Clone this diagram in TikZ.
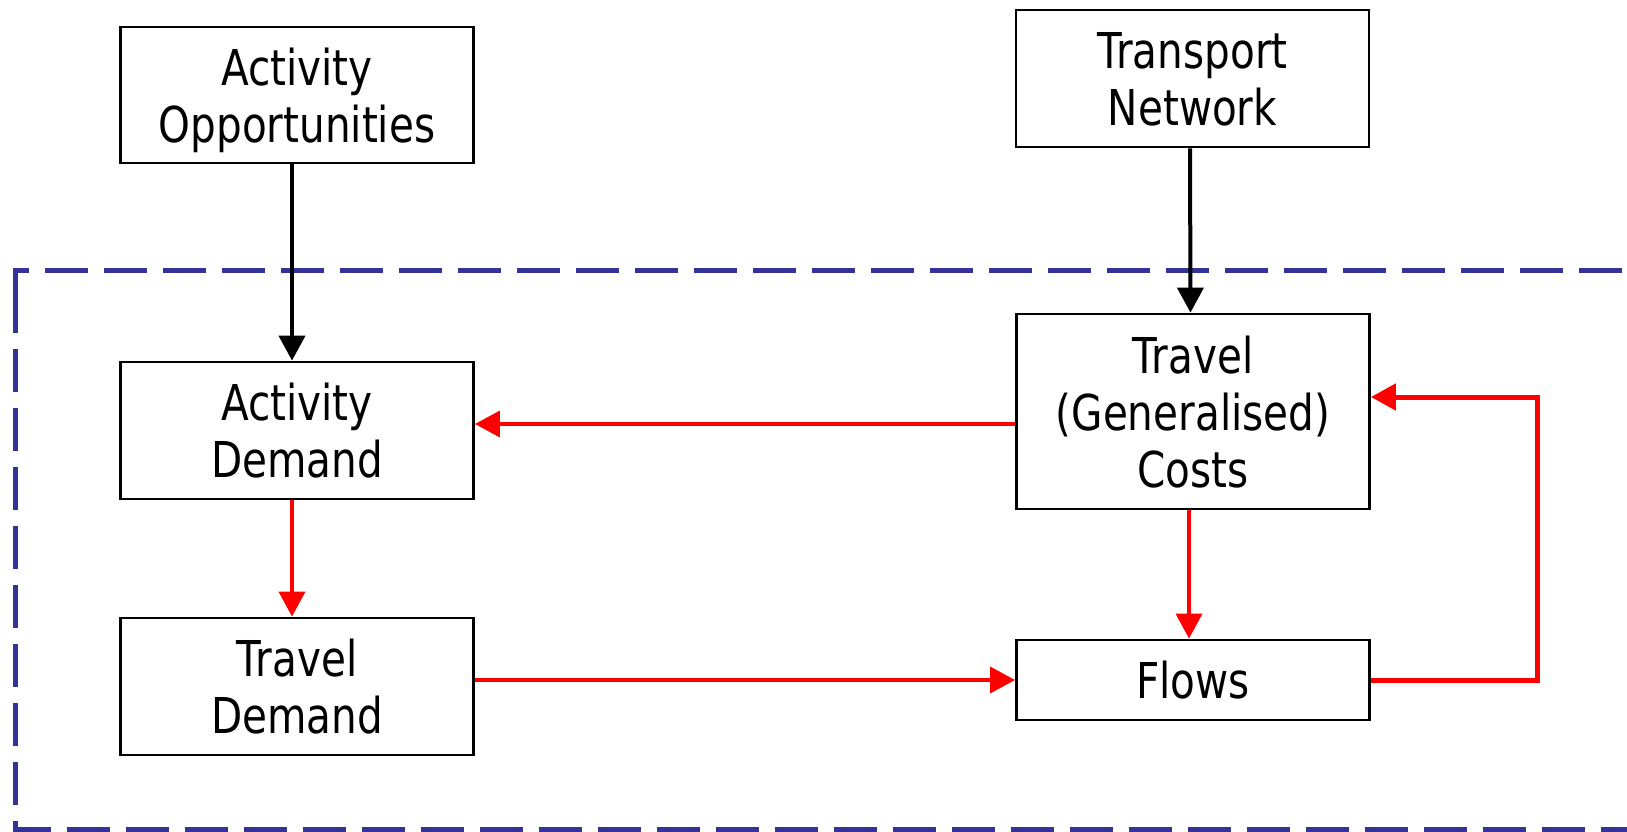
\documentclass[tikz,border=0pt]{standalone}
\usepackage{fontspec}
\setmainfont[FakeStretch=0.82]{DejaVu Sans}
\usetikzlibrary{arrows.meta}
\definecolor{dashblue}{RGB}{51,51,153}
\definecolor{linkred}{RGB}{255,0,0}
\begin{document}
\begin{tikzpicture}[x=0.5pt,y=-0.5pt,
  box/.style={draw=black, line width=1.4pt, fill=white, inner sep=0pt,
    minimum width=176.5pt, align=center, text depth=0pt,
    font=\fontsize{24.7}{28.5}\selectfont},
  tip/.style={-{Triangle[width=13pt,length=12.5pt]}},
  blkarrow/.style={tip, draw=black, line width=2pt},
  redarrow/.style={tip, draw=linkred, line width=1.8pt},
  fbarrow/.style={tip, draw=linkred, line width=2.5pt},
  frame/.style={draw=dashblue, line width=2.5pt, dash pattern=on 21.5pt off 8pt}
]
\useasboundingbox (0,0) rectangle (1627,831);
% dashed frame
\draw[frame] (15.7,290) -- (15.7,829) -- (1660,829);
\draw[frame] (15.7,300) -- (15.7,270) -- (1660,270);
% nodes
\node[box, minimum height=68pt]   (ao) at (297,95)     {Activity\\Opportunities};
\node[box, minimum height=68.5pt] (tn) at (1192.5,78.5) {Transport\\Network};
\node[box, minimum height=68.5pt] (ad) at (297,430.5)  {Activity\\Demand};
\node[box, minimum height=97.5pt] (co) at (1193,411.5) {Travel\\(Generalised)\\Costs};
\node[box, minimum height=68.5pt] (td) at (297,686.5)  {Travel\\Demand};
\node[box, minimum height=40pt]   (fl) at (1193,680)   {Flows};
% connectors
\draw[blkarrow] ([xshift=-2.5pt]ao.south) -- ([xshift=-2.5pt]ad.north);
\draw[blkarrow] ([xshift=-1.25pt]tn.south) -- ([xshift=-1.25pt]co.north);
\draw[redarrow] ([yshift=-6.25pt]co.west) -- ([yshift=-6.25pt]co.west -| ad.east);
\draw[redarrow] ([xshift=-2.5pt]ad.south) -- ([xshift=-2.5pt]td.north);
\draw[redarrow] ([xshift=-2pt]co.south) -- ([xshift=-2pt]fl.north);
\draw[redarrow] (td.east |- fl.west) -- (fl.west);
\draw[fbarrow] (fl.east) -- ++(167,0) |- ([yshift=7.25pt]co.east);
\end{tikzpicture}
\end{document}
